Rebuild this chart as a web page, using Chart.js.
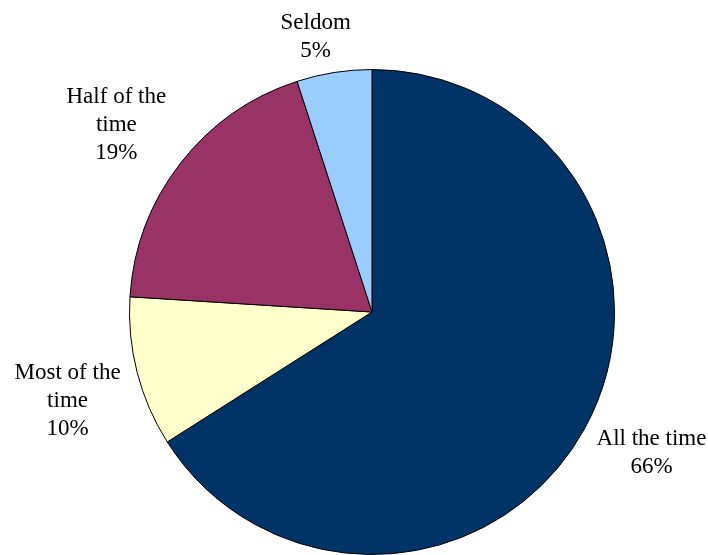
<!DOCTYPE html>
<html>
<head>
<meta charset="utf-8">
<script src="https://cdn.jsdelivr.net/npm/chart.js@4/dist/chart.umd.min.js"></script>
<style>
  html, body { margin: 0; padding: 0; background: #fff; }
  #wrap { width: 708px; height: 555px; position: relative; }
</style>
</head>
<body>
<div id="wrap"><canvas id="graficoPizza"></canvas></div>
<script>
// categories and values, clockwise from 12 o'clock
categorias = ['All the time', 'Most of the time', 'Half of the time', 'Seldom']
linhasRotulo = [['All the time'], ['Most of the', 'time'], ['Half of the', 'time'], ['Seldom']]
percentuais = [66, 10, 19, 5]
cores = ['#003366', '#ffffcc', '#993366', '#99ccff']

// small hand nudges so the labels sit where Excel put them
var ajusteRotulo = [[5, -10], [-2, 11], [-5, 7], [-12, 5]]

// draws the outside labels, centred in a box whose nearest point sits just beyond the rim
var rotulosPlugin = {
	id: 'rotulos',
	afterDraw: function (chart) {
		var ctx = chart.ctx
		var meta = chart.getDatasetMeta(0)
		var lineH = 28
		ctx.save()
		ctx.font = '23px "Liberation Serif", "Times New Roman", serif'
		ctx.fillStyle = '#000'
		ctx.textAlign = 'center'
		ctx.textBaseline = 'middle'
		meta.data.forEach(function (arc, i) {
			var p = arc.getProps(['x', 'y', 'startAngle', 'endAngle', 'outerRadius'], true)
			var mid = (p.startAngle + p.endAngle) / 2
			var dx = Math.cos(mid), dy = Math.sin(mid)
			var linhas = linhasRotulo[i].concat([percentuais[i] + '%'])
			var w = 0
			linhas.forEach(function (l) { w = Math.max(w, ctx.measureText(l).width) })
			var h = linhas.length * lineH
			var alvo = p.outerRadius + 9
			var t = p.outerRadius * 0.5
			for (var k = 0; k < 400; k++) {
				var cx = p.x + dx * t, cy = p.y + dy * t
				var nx = Math.max(cx - w / 2, Math.min(p.x, cx + w / 2))
				var ny = Math.max(cy - h / 2, Math.min(p.y, cy + h / 2))
				if (Math.hypot(nx - p.x, ny - p.y) >= alvo) break
				t += 1
			}
			var cx = p.x + dx * t + ajusteRotulo[i][0]
			var cy = p.y + dy * t + ajusteRotulo[i][1]
			linhas.forEach(function (l, j) {
				ctx.fillText(l, cx, cy - h / 2 + lineH / 2 + j * lineH)
			})
		})
		ctx.restore()
	}
}

function geraGrafico() {
	var config = {
		type: 'pie',
		data: {
			labels: categorias,
			datasets: [{
				data: percentuais,
				backgroundColor: cores,
				borderColor: '#000',
				borderWidth: 1
			}]
		},
		options: {
			responsive: true,
			maintainAspectRatio: false,
			animation: false,
			layout: { padding: { top: 69, bottom: 0, left: 129, right: 93 } },
			plugins: {
				legend: { display: false },
				tooltip: { enabled: false }
			}
		},
		plugins: [rotulosPlugin]
	}
	var ctx = document.getElementById('graficoPizza').getContext('2d')
	window.myPie = new Chart(ctx, config)
}
geraGrafico()
</script>
</body>
</html>
